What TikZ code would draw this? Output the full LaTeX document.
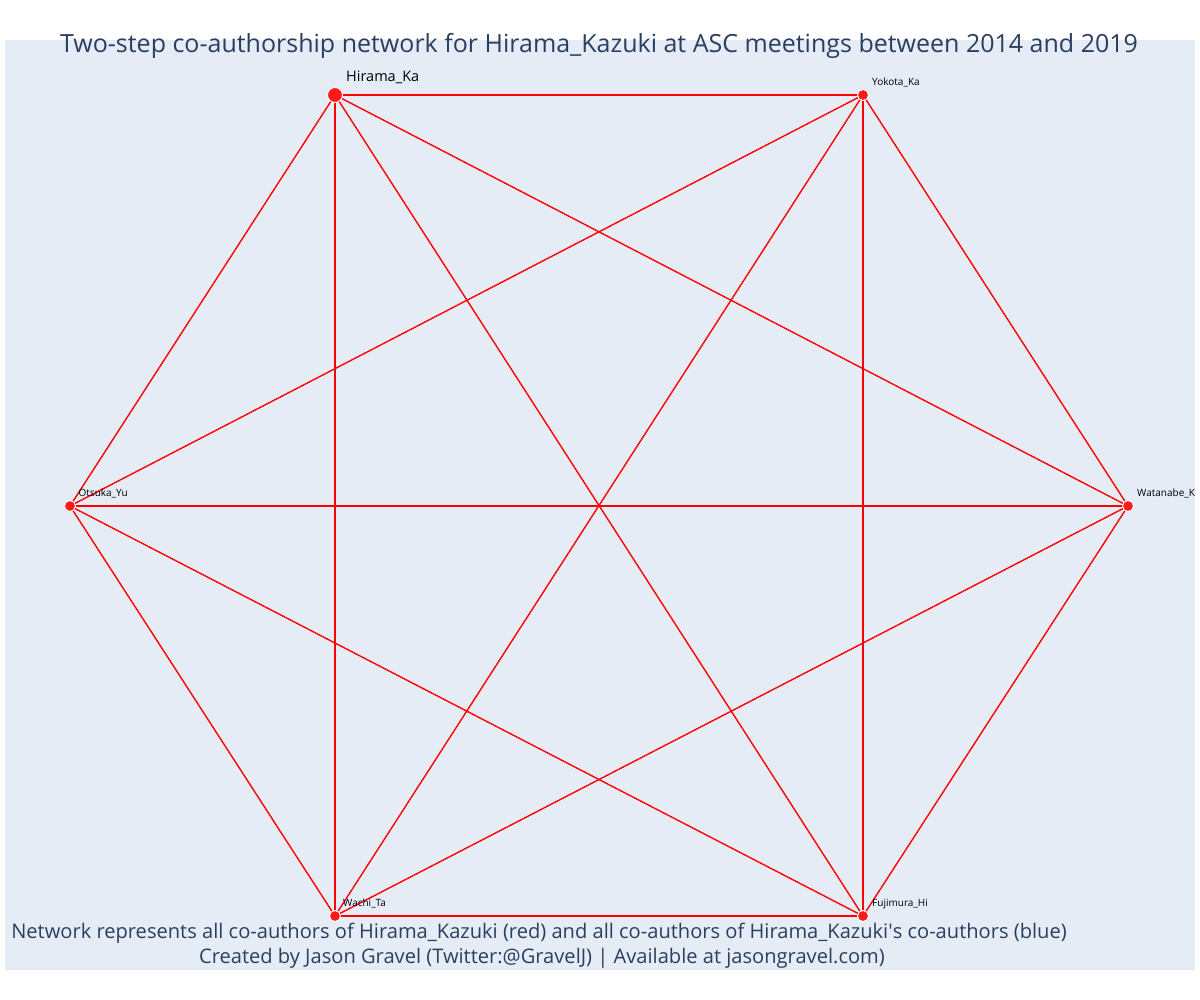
\documentclass[tikz,border=0pt]{standalone}
\usepackage{fontspec}
\setmainfont{Open Sans}
\definecolor{plotbg}{HTML}{E5ECF6}
\definecolor{titlecol}{HTML}{2A3F5F}
\definecolor{edgecol}{HTML}{FF0000}
\definecolor{nodecol}{HTML}{FF1A1A}
\begin{document}
\begin{tikzpicture}[x=1pt,y=-1pt,
  edge/.style={draw=edgecol,line width=1.4pt},
  author/.style={circle,fill=nodecol,draw=white,line width=0.9pt,inner sep=0pt,minimum size=11pt},
  mainauthor/.style={author,minimum size=15pt},
  lbl/.style={anchor=base west,inner sep=0pt,font=\fontsize{10}{12}\selectfont,text=black},
  mainlbl/.style={anchor=base west,inner sep=0pt,font=\fontsize{14.5}{17}\selectfont,text=black},
  titletxt/.style={inner sep=0pt,text=titlecol,font=\fontsize{25}{29}\selectfont},
  foottxt/.style={inner sep=0pt,text=titlecol,font=\fontsize{20.1}{24}\selectfont,anchor=base}
]
\useasboundingbox (0,0) rectangle (1200,1000);
\fill[white] (0,0) rectangle (1200,1000);
\fill[plotbg] (5,40) rectangle (1195,970);

\coordinate (H) at (335,95);
\coordinate (Y) at (863,95);
\coordinate (W) at (1128,506);
\coordinate (F) at (863,916);
\coordinate (T) at (335,916);
\coordinate (O) at (70,506);

\foreach \a/\b in {H/Y,H/W,H/F,H/T,H/O,Y/W,Y/F,Y/T,Y/O,W/F,W/T,W/O,F/T,F/O,T/O}
  \draw[edge] (\a) -- (\b);

\node[mainauthor] (nH) at (H) {};
\node[author] (nY) at (Y) {};
\node[author] (nW) at (W) {};
\node[author] (nF) at (F) {};
\node[author] (nT) at (T) {};
\node[author] (nO) at (O) {};

\node[mainlbl] (lH) at ([shift={(11,-13)}]H) {Hirama\_Ka};
\node[lbl] (lY) at ([shift={(9,-9.5)}]Y) {Yokota\_Ka};
\node[lbl] (lW) at ([shift={(9,-9.5)}]W) {Watanabe\_K};
\node[lbl] (lF) at ([shift={(9,-9.5)}]F) {Fujimura\_Hi};
\node[lbl] (lT) at ([shift={(8,-9.5)}]T) {Wachi\_Ta};
\node[lbl] (lO) at ([shift={(8.5,-9.5)}]O) {Otsuka\_Yu};

\node[titletxt,anchor=base] (title) at (599,53) {Two-step co-authorship network for Hirama\_Kazuki at ASC meetings between 2014 and 2019};
\node[foottxt] (f1) at (539,938) {Network represents all co-authors of Hirama\_Kazuki (red) and all co-authors of Hirama\_Kazuki\textquotesingle s co-authors (blue)};
\node[foottxt] (f2) at (542,963) {Created by Jason Gravel (Twitter:@GravelJ) | Available at jasongravel.com)};
\end{tikzpicture}
\end{document}
